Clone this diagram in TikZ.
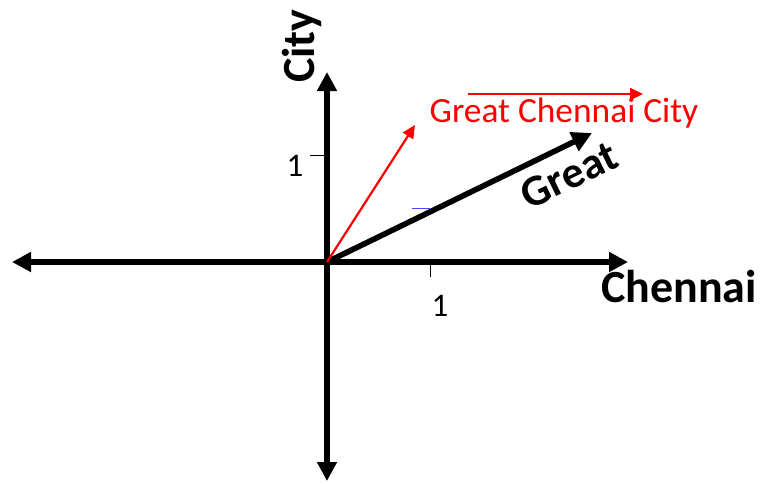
\documentclass[tikz,border=0pt]{standalone}
\usepackage{fontspec}
\setmainfont{Carlito}
\usetikzlibrary{arrows.meta, positioning}
\tikzset{
  axisline/.style={
    line width=2.8pt,
    {Triangle[length=9.5pt,width=9.5pt]}-{Triangle[length=9.5pt,width=9.5pt]}
  },
  vecblack/.style={
    line width=2.8pt, -{Triangle[length=10pt,width=10pt]}
  },
  vecred/.style={
    line width=1.1pt, color=red, -{Triangle[length=6.5pt,width=6pt]}
  },
  tickmark/.style={line width=0.5pt},
  ticklabel/.style={
    font=\fontsize{16.5}{18}\selectfont, inner sep=0pt
  },
  axislabel/.style={
    font=\fontsize{23}{26}\selectfont\bfseries, inner sep=0pt
  },
  veclabel/.style={
    font=\fontsize{17.7}{20}\selectfont, inner sep=0pt
  },
}

\begin{document}
\begin{tikzpicture}[x=0.5pt, y=-0.5pt]
  \useasboundingbox (0,0) rectangle (761,483);
  % Axes
  \coordinate (o) at (327,262);
  \coordinate (xl) at (12,262);
  \coordinate (xr) at (628,262);
  \coordinate (yt) at (327,72);
  \coordinate (yb) at (327,481);
  \draw[axisline] (xl) -- (xr);
  \draw[axisline] (yb) -- (yt);
  % Unit ticks
  \draw[tickmark] (430,262) -- (430,277);
  \draw[tickmark] (310,155) -- (325,155);
  \node[ticklabel] (xone) at (440,306) {1};
  \node[ticklabel] (yone) at (295,166) {1};
  \draw[blue!70, line width=0.4pt] (412,208) -- (430,208);
  % Axis labels
  \node[axislabel] (chennai) at (679,287) {Chennai};
  \node[axislabel, rotate=90] (city) at (302,46) {City};
  % Vectors
  \coordinate (gtip) at (592,133);
  \coordinate (rtip) at (415,125);
  \draw[vecblack] (o) -- (gtip);
  \draw[vecred] (o) -- (rtip);
  \node[axislabel, font=\fontsize{22}{24}\selectfont\bfseries,
    rotate=26] (great) at (569,175) {Great};
  \node[veclabel, text=red] (gcc) at (564,113) {Great Chennai City};
  \coordinate (ra) at (468,94);
  \coordinate (rb) at (643,94);
  \draw[vecred] (ra) -- (rb);
\end{tikzpicture}
\end{document}
